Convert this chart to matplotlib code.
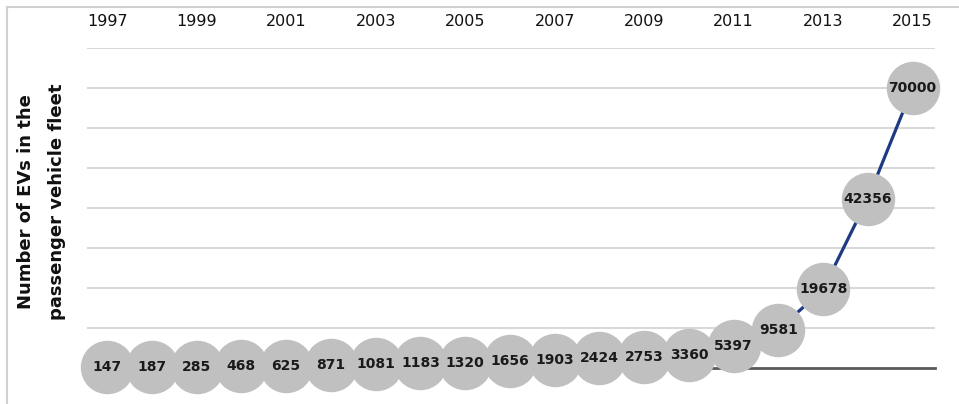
import matplotlib.pyplot as plt
from matplotlib.lines import Line2D

years = list(range(1997, 2016))
evs = [147, 187, 285, 468, 625, 871, 1081, 1183, 1320, 1656, 1903,
       2424, 2753, 3360, 5397, 9581, 19678, 42356, 70000]
tick_years = list(range(1997, 2016, 2))

fig = plt.figure(figsize=(9.59, 4.04), dpi=100)
ax = fig.add_axes([87 / 959, 36 / 404, 848 / 959, 320 / 404])

ax.plot(years, evs, color='#1f3a84', lw=2.3, marker='o', ms=38.5,
        mfc='#c0c0c0', mec='none', zorder=3, clip_on=False)
for x, y in zip(years, evs):
    ax.text(x, y, str(y), ha='center', va='center', fontsize=10,
            fontweight='bold', color='#1a1a1a', zorder=4)

ax.set_xlim(1996.55, 2015.5)
ax.set_ylim(0, 80000)
ax.set_xticks(tick_years)
ax.set_yticks(range(10000, 80001, 10000))
ax.tick_params(axis='x', top=True, bottom=False, labeltop=True, labelbottom=False,
               length=0, pad=14, labelsize=11.5, labelcolor='#111111')
ax.tick_params(axis='y', length=0, labelleft=False)
ax.grid(axis='y', color='#d9d9d9', lw=1.5)
ax.set_axisbelow(True)
for s in ['top', 'left', 'right']:
    ax.spines[s].set_visible(False)
ax.spines['bottom'].set_color('#595959')
ax.spines['bottom'].set_linewidth(2)
ax.spines['bottom'].set_zorder(2)

fig.text(26 / 959, 0.5, 'Number of EVs in the', rotation=90, ha='center', va='center',
         fontsize=13, fontweight='bold', color='#111111')
fig.text(57 / 959, 0.5, 'passenger vehicle fleet', rotation=90, ha='center', va='center',
         fontsize=13, fontweight='bold', color='#111111')

# outer frame, only top and left visible
fig.add_artist(Line2D([7 / 959, 7 / 959], [0, 1 - 7 / 404], color='#d0d0d0', lw=1.5,
                      transform=fig.transFigure))
fig.add_artist(Line2D([7 / 959, 1], [1 - 7 / 404, 1 - 7 / 404], color='#d0d0d0', lw=1.5,
                      transform=fig.transFigure))

fig.savefig('out.png', dpi=100)
